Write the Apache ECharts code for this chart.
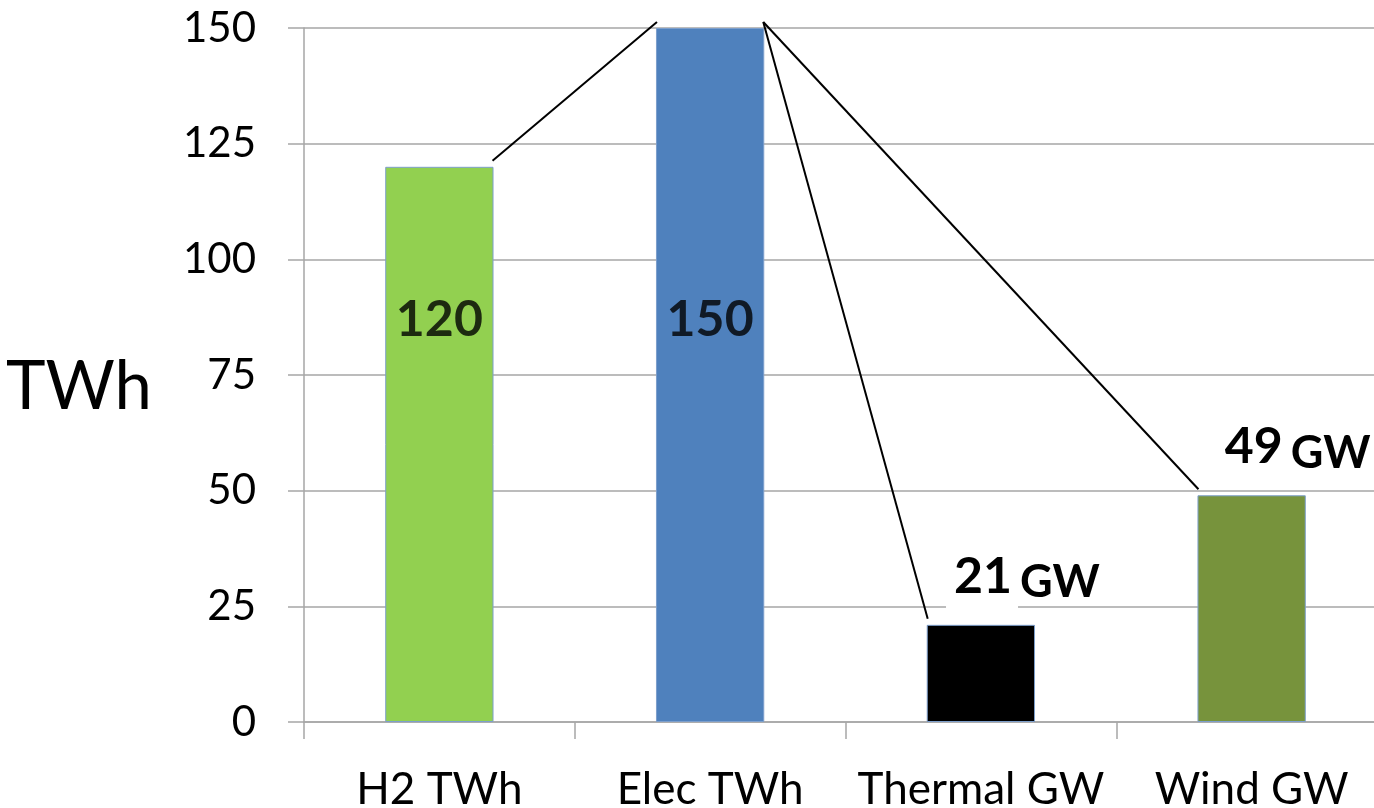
<!DOCTYPE html>
<html>
<head>
<meta charset="utf-8">
<script src="https://cdn.jsdelivr.net/npm/echarts@6/dist/echarts.min.js"></script>
<style>
  html, body { margin: 0; padding: 0; background: #fff; }
  #chart { width: 1374px; height: 808px; }
</style>
</head>
<body>
<div id="chart"></div>
<script>
// Categories and values
const categories = ['H2 TWh', 'Elec TWh', 'Thermal GW', 'Wind GW'];
const values = [120, 150, 21, 49];
const barColors = ['#92d050', '#4f81bd', '#000000', '#77933c'];
const units = ['', '', 'GW', 'GW'];
// Value axis ticks
const yTicks = [0, 25, 50, 75, 100, 125, 150];
const yAxisTitle = 'TWh';
// Connector lines between bars: [from index, to index]
const links = [[0, 1], [1, 2], [1, 3]];
// Height (in axis units) where the in-bar value labels sit
const inBarLabelLevel = 87;

const FONT = 'Lato, "Open Sans", sans-serif';
const GRID_COLOR = '#a6a6a6';
const BAR_RATIO = 0.4;

const chart = echarts.init(document.getElementById('chart'), null, { renderer: 'canvas' });

const option = {
  animation: false,
  // the plot runs slightly past the right edge of the canvas
  grid: { left: 304, top: 28, width: 1083, height: 694, containLabel: false, outerBoundsMode: 'none' },
  graphic: [
    {
      type: 'text',
      x: 152,
      y: 387,
      style: {
        text: yAxisTitle,
        font: '400 67px ' + FONT,
        fill: '#000',
        align: 'right',
        verticalAlign: 'middle'
      }
    }
  ],
  xAxis: {
    type: 'category',
    data: categories,
    boundaryGap: true,
    axisLine: { show: true, lineStyle: { color: GRID_COLOR, width: 1.5 } },
    axisTick: { show: true, length: 17, lineStyle: { color: GRID_COLOR, width: 1.5 } },
    axisLabel: { fontFamily: FONT, fontSize: 44, color: '#000', margin: 46, interval: 0 }
  },
  yAxis: {
    type: 'value',
    min: yTicks[0],
    max: yTicks[yTicks.length - 1],
    interval: yTicks[1] - yTicks[0],
    axisLine: { show: true, lineStyle: { color: GRID_COLOR, width: 1.5 } },
    axisTick: { show: true, length: 16, lineStyle: { color: GRID_COLOR, width: 1.5 } },
    splitLine: { show: true, lineStyle: { color: GRID_COLOR, width: 1.5 } },
    axisLabel: { fontFamily: FONT, fontSize: 42, color: '#000', margin: 48 }
  },
  series: [
    {
      type: 'bar',
      barWidth: (BAR_RATIO * 100) + '%',
      data: values.map((v, i) => ({
        value: v,
        itemStyle: { color: barColors[i], borderColor: '#7d9fcc', borderWidth: 1 },
        label: units[i] ? { show: true } : { show: false }
      })),
      label: {
        position: 'top',
        distance: 16,
        offset: [42, 0],
        formatter: p => '{n|' + values[p.dataIndex] + '}{u|' + units[p.dataIndex] + '}',
        rich: {
          n: { fontFamily: FONT, fontSize: 50, fontWeight: 'bold', color: '#000',
               backgroundColor: '#fff', padding: [4, 6, 16, 8], lineHeight: 52 },
          u: { fontFamily: FONT, fontSize: 45, fontWeight: 'bold', color: '#000',
               padding: [0, 0, 0, 2], lineHeight: 52 }
        }
      },
      z: 2
    },
    {
      // value labels placed inside the first two bars
      type: 'scatter',
      symbolSize: 0,
      data: [[0, inBarLabelLevel], [1, inBarLabelLevel]],
      label: {
        show: true,
        position: 'inside',
        formatter: p => String(values[p.dataIndex]),
        fontFamily: FONT, fontSize: 50, fontWeight: 'bold', color: '#000'
      },
      silent: true,
      z: 4
    },
    {
      // connector lines from a bar's top corner to another bar's top corner
      type: 'custom',
      data: links,
      renderItem: (params, api) => {
        const from = api.value(0);
        const to = api.value(1);
        const band = api.size([1, 0])[0];
        const half = band * BAR_RATIO / 2;
        const a = api.coord([from, values[from]]);
        const b = api.coord([to, values[to]]);
        const toRight = b[0] > a[0];
        const x1 = a[0] + (toRight ? half - 1 : -half + 1);
        const x2 = b[0] + (toRight ? -half + 1 : half - 1);
        return {
          type: 'line',
          shape: { x1: x1, y1: a[1] - 6, x2: x2, y2: b[1] - 6 },
          style: { stroke: '#000', lineWidth: 2 }
        };
      },
      silent: true,
      z: 3
    }
  ]
};

chart.setOption(option);
</script>
</body>
</html>
